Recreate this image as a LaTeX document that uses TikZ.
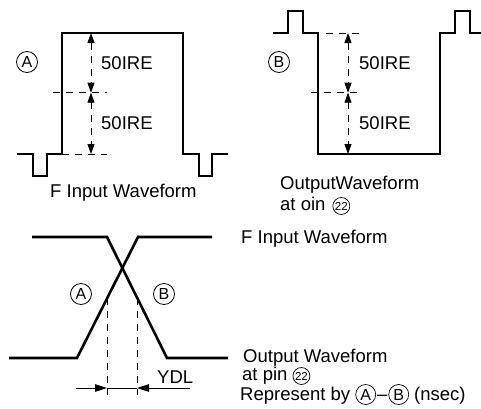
\documentclass[tikz,border=0pt]{standalone}
\usepackage{fontspec}
\setmainfont{Liberation Sans}
\usetikzlibrary{arrows.meta}
\newcommand\cletter[3]{\tikz[baseline=(X.base)]\node[draw,circle,line width=0.7pt,inner sep=0pt,minimum size=#2,font=\fontsize{#3}{#3}\selectfont](X){#1};}
\begin{document}
\begin{tikzpicture}[x=1pt,y=-1pt,
  wave/.style={line width=2.6pt, line join=miter},
  dsh/.style={line width=0.9pt, dash pattern=on 7pt off 6pt},
  dimarrow/.style={line width=0.9pt, dash pattern=on 7pt off 6pt, {Triangle[length=10pt,width=7pt]}-{Triangle[length=10pt,width=7pt]}},
  tipr/.style={line width=0.9pt, -{Triangle[length=12pt,width=7.5pt]}},
  lbl/.style={font=\fontsize{18.5}{20}\selectfont, inner sep=0pt, anchor=base west},
  cl/.style={draw, circle, line width=0.8pt, inner sep=0pt, minimum size=21pt, font=\fontsize{16}{16}\selectfont}]
\useasboundingbox (0,0) rectangle (481,408);

% ---------- Panel A ----------
\draw[wave] (17,154) -- (33,154) -- (33,176) -- (47,176) -- (47,154) -- (62,154)
  -- (62,33) -- (183,33) -- (183,154) -- (199,154) -- (199,176) -- (212,176) -- (212,154) -- (228,154);
\coordinate (aT) at (91,33);
\coordinate (aM) at (91,92.7);
\coordinate (aB) at (91,154);
\coordinate (aML) at (53,92.7);
\coordinate (aMR) at (107,92.7);
\coordinate (aBL) at (62,154);
\coordinate (aBR) at (107,154);
\draw[dsh] (aML) -- (aMR);
\draw[dsh] (aBL) -- (aBR);
\draw[dimarrow] (aT) -- (aM);
\draw[dimarrow] (aM) -- (aB);
\node[lbl, anchor=west] (a50a) at (101,63.5) {50IRE};
\node[lbl, anchor=west] (a50b) at (101,123.5) {50IRE};
\node[cl] (cA1) at (27,62) {A};
\node[lbl] (tA) at (50,197) {F Input Waveform};

% ---------- Panel B ----------
\draw[wave] (273,33) -- (288,33) -- (288,11) -- (303,11) -- (303,33) -- (318,33)
  -- (318,154) -- (440,154) -- (440,33) -- (455,33) -- (455,11) -- (470,11) -- (470,33) -- (481,33);
\coordinate (bT) at (348,33);
\coordinate (bM) at (348,92.7);
\coordinate (bB) at (348,154);
\coordinate (bTL) at (326,33);
\coordinate (bTR) at (363,33);
\coordinate (bML) at (311,92.7);
\coordinate (bMR) at (363,92.7);
\draw[dsh] (bTL) -- (bTR);
\draw[dsh] (bML) -- (bMR);
\draw[dimarrow] (bT) -- (bM);
\draw[dimarrow] (bM) -- (bB);
\node[lbl, anchor=west] (b50a) at (359,63.5) {50IRE};
\node[lbl, anchor=west] (b50b) at (359,123.5) {50IRE};
\node[cl] (cB1) at (279,62) {B};
\node[lbl] (tB1) at (280,189) {OutputWaveform};
\node[lbl] (tB2) at (280,210) {at oin\hspace{7pt}\cletter{22}{17pt}{11.5}};

% ---------- Bottom timing ----------
\draw[wave] (9,358) -- (77,358) -- (138,237) -- (212,237);
\draw[wave] (32,237) -- (107,237) -- (167,358) -- (228,358);
\node[cl] (cA2) at (81,294) {A};
\node[cl] (cB2) at (164,294) {B};
\coordinate (d1t) at (107,298);
\coordinate (d1b) at (107,395);
\coordinate (d2t) at (137,298);
\coordinate (d2b) at (137,395);
\draw[dsh] (d1t) -- (d1b);
\draw[dsh] (d2t) -- (d2b);
\coordinate (yl) at (76,388);
\coordinate (yr) at (190,388);
\coordinate (y1) at (107,388);
\coordinate (y2) at (137,388);
\draw[line width=0.9pt] (y1) -- (y2);
\draw[tipr] (yl) -- (y1);
\draw[tipr] (yr) -- (y2);
\node[lbl] (ydl) at (157,383) {YDL};

\node[lbl] (r1) at (241,243) {F Input Waveform};
\node[lbl] (r2) at (243,362) {Output Waveform};
\node[lbl] (r3) at (242,380) {at pin \cletter{22}{17pt}{11.5}};
\node[lbl] (r4) at (240,400) {Represent by \cletter{A}{20pt}{16}\kern1pt--\kern1pt\cletter{B}{20pt}{16} (nsec)};
\end{tikzpicture}
\end{document}
